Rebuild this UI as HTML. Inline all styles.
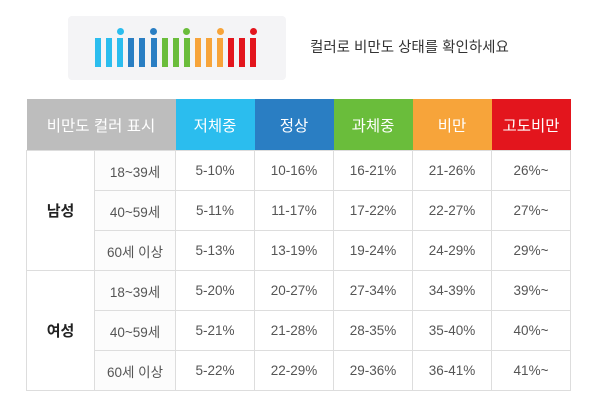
<!DOCTYPE html>
<html><head><meta charset="utf-8"><style>
body{margin:0;width:600px;height:417px;background:#fff;position:relative;font-family:"Liberation Sans","Noto Sans CJK KR",sans-serif;overflow:hidden}
.logo{position:absolute;left:68px;top:16px;width:218px;height:64px;background:#f4f4f6;border-radius:4px}
.bar{position:absolute;top:38px;width:6px;height:29px}
.dot{position:absolute;top:28px;width:7px;height:7px;border-radius:50%}
.title{position:absolute;left:310px;top:36px;font-size:14.5px;color:#333}
table{position:absolute;left:26px;top:99px;border-collapse:collapse;font-size:13.5px;color:#555}
td{border:1px solid #ddd;text-align:center;height:39px;padding:0;width:78px}
th{height:51px;color:#fff;font-weight:normal;font-size:15.5px;padding:0}
td.g{width:67px;font-weight:bold;color:#222;font-size:15px}
td.a{width:80px;background:#fcfcfc}
</style></head><body>
<div class="logo"></div>
<div id="bars"></div>
<div class="title">컬러로 비만도 상태를 확인하세요</div>
<table>
<tr><th colspan="2" style="background:#bdbdbd">비만도 컬러 표시</th><th style="background:#2bbdee">저체중</th><th style="background:#2a7ec3">정상</th><th style="background:#6abd3b">과체중</th><th style="background:#f7a43a">비만</th><th style="background:#e3151d">고도비만</th></tr>
<tr><td class="g" rowspan="3">남성</td><td class="a">18~39세</td><td>5-10%</td><td>10-16%</td><td>16-21%</td><td>21-26%</td><td>26%~</td></tr>
<tr><td class="a">40~59세</td><td>5-11%</td><td>11-17%</td><td>17-22%</td><td>22-27%</td><td>27%~</td></tr>
<tr><td class="a">60세 이상</td><td>5-13%</td><td>13-19%</td><td>19-24%</td><td>24-29%</td><td>29%~</td></tr>
<tr><td class="g" rowspan="3">여성</td><td class="a">18~39세</td><td>5-20%</td><td>20-27%</td><td>27-34%</td><td>34-39%</td><td>39%~</td></tr>
<tr><td class="a">40~59세</td><td>5-21%</td><td>21-28%</td><td>28-35%</td><td>35-40%</td><td>40%~</td></tr>
<tr><td class="a">60세 이상</td><td>5-22%</td><td>22-29%</td><td>29-36%</td><td>36-41%</td><td>41%~</td></tr>
</table>
<script>
var c=['#2bbdee','#2bbdee','#2bbdee','#2a7ec3','#2a7ec3','#2a7ec3','#6abd3b','#6abd3b','#6abd3b','#f7a43a','#f7a43a','#f7a43a','#e3151d','#e3151d','#e3151d'];
var h='';for(var i=0;i<15;i++){var x=95+i*11.1;h+='<div class="bar" style="left:'+x+'px;background:'+c[i]+'"></div>';if(i%3==2)h+='<div class="dot" style="left:'+(x-0.5)+'px;background:'+c[i]+'"></div>';}
document.getElementById('bars').innerHTML=h;
</script>
</body></html>
